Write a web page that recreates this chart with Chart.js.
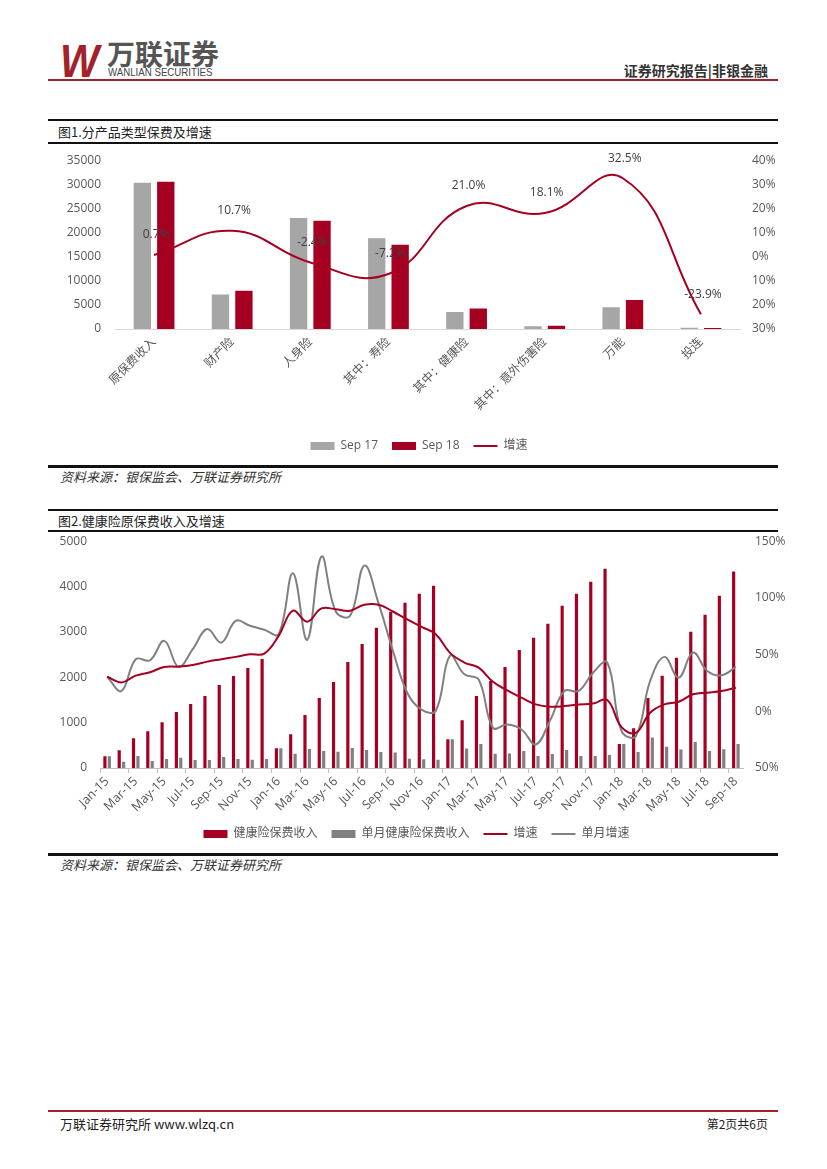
<!DOCTYPE html>
<html>
<head>
<meta charset="utf-8">
<script src="https://cdn.jsdelivr.net/npm/chart.js@4.4.1/dist/chart.umd.min.js"></script>
<style>
  html, body { margin: 0; padding: 0; background: #fff; }
  body { width: 827px; height: 1169px; position: relative; overflow: hidden;
         font-family: 'Noto Sans CJK SC', sans-serif; color: #222; }
  .abs { position: absolute; white-space: nowrap; }
  .rule { position: absolute; left: 48px; width: 730px; background: #111; }
  .title { font-size: 13px; line-height: 16px; left: 58px; }
  .src { font-size: 13px; line-height: 16px; left: 60px; font-style: italic; color: #333; }
</style>
</head>
<body>
<!-- header -->
<div class="abs" style="left:60px;top:33px;font:italic 900 47px 'Liberation Sans';color:#a3212b;transform:scaleX(0.88);transform-origin:left">W</div>
<div class="abs" style="left:107px;top:36px;font:700 28px 'Noto Sans CJK SC';color:#555;line-height:34px">万联证券</div>
<div class="abs" style="left:108px;top:66px;font:11px 'Liberation Sans';color:#444;transform:scaleX(0.88);transform-origin:left">WANLIAN SECURITIES</div>
<div class="abs" style="right:59px;top:60px;font:700 14px 'Noto Sans CJK SC';color:#333">证券研究报告|非银金融</div>
<div class="rule" style="top:79px;height:2px;background:#a3212b"></div>

<!-- figure 1 -->
<div class="rule" style="top:119px;height:2px"></div>
<div class="abs title" style="top:124px">图1.分产品类型保费及增速</div>
<div class="rule" style="top:142px;height:1.5px"></div>
<canvas id="c1" class="abs" style="left:48px;top:139px" width="742" height="326"></canvas>
<div class="rule" style="top:465px;height:2.5px"></div>
<div class="abs src" style="top:469px">资料来源：银保监会、万联证券研究所</div>

<!-- figure 2 -->
<div class="rule" style="top:509px;height:1.5px"></div>
<div class="abs title" style="top:513px">图2.健康险原保费收入及增速</div>
<div class="rule" style="top:530px;height:2px"></div>
<canvas id="c2" class="abs" style="left:48px;top:521px" width="737" height="332"></canvas>
<div class="rule" style="top:853px;height:2.5px"></div>
<div class="abs src" style="top:857px">资料来源：银保监会、万联证券研究所</div>

<!-- footer -->
<div class="rule" style="top:1110px;height:2px;background:#a3212b"></div>
<div class="abs" style="left:60px;top:1114px;font-size:13px;color:#222">万联证券研究所 www.wlzq.cn</div>
<div class="abs" style="right:59px;top:1115px;font-size:12px;color:#222">第2页共6页</div>

<script>
  // ---- figure 1 data ----
  const productCats = ['原保费收入', '财产险', '人身险', '其中：寿险', '其中：健康险', '其中：意外伤害险', '万能', '投连']
  const sep17 = [30300, 7150, 23000, 18800, 3500, 560, 4530, 250]
  const sep18 = [30520, 7915, 22450, 17450, 4235, 660, 6000, 190]
  const productGrowth = [0.7, 10.7, -2.4, -7.2, 21.0, 18.1, 32.5, -23.9]

  // ---- figure 2 data ----
  const months = [
    'Jan-15', 'Feb-15', 'Mar-15', 'Apr-15', 'May-15', 'Jun-15', 'Jul-15', 'Aug-15', 'Sep-15', 'Oct-15', 'Nov-15', 'Dec-15',
    'Jan-16', 'Feb-16', 'Mar-16', 'Apr-16', 'May-16', 'Jun-16', 'Jul-16', 'Aug-16', 'Sep-16', 'Oct-16', 'Nov-16', 'Dec-16',
    'Jan-17', 'Feb-17', 'Mar-17', 'Apr-17', 'May-17', 'Jun-17', 'Jul-17', 'Aug-17', 'Sep-17', 'Oct-17', 'Nov-17', 'Dec-17',
    'Jan-18', 'Feb-18', 'Mar-18', 'Apr-18', 'May-18', 'Jun-18', 'Jul-18', 'Aug-18', 'Sep-18'
  ]
  const healthCum = [
    259, 392, 657, 812, 1011, 1232, 1409, 1586, 1829, 2028, 2205, 2404,
    436, 746, 1166, 1542, 1896, 2338, 2736, 3090, 3444, 3643, 3842, 4020,
    635, 1055, 1586, 1918, 2228, 2604, 2869, 3179, 3577, 3842, 4108, 4395,
    528, 875, 1545, 2032, 2430, 3005, 3378, 3798, 4332
  ]
  const healthMonth = [
    259, 138, 262, 152, 196, 228, 175, 176, 240, 196, 184, 196,
    438, 312, 418, 374, 356, 440, 396, 352, 340, 205, 195, 182,
    635, 432, 528, 312, 318, 374, 262, 308, 396, 262, 262, 284,
    528, 350, 672, 468, 408, 572, 374, 412, 528
  ]
  const healthGrowth = [
    30.5, 25.5, 31.5, 34.5, 39.1, 39.4, 40.9, 43.8, 45.9, 48, 50.3, 50.9,
    66.5, 88.7, 79, 90.7, 90, 88.7, 94, 94, 88, 81, 74.5, 68,
    51.5, 43, 38.5, 26, 18.5, 12, 6.1, 4, 4.6, 6, 6.8, 10,
    -14, -19, -1.3, 6.1, 8.4, 15, 16.4, 17.9, 20.8
  ]
  const monthGrowth = [
    30.5, 17.9, 45.9, 45, 62.1, 39.1, 55, 72.5, 60.6, 79.8, 75.4, 71.9,
    68, 121.7, 63, 136.5, 88, 84.2, 128.5, 95, 53.3, 16.4, 1.5, 0.5,
    49, 32.6, 28, -14.6, -11.6, -16, -29.3, -8, 17.9, 18, 34, 43,
    -17.5, -21.9, 26.7, 48, 29.7, 51.8, 35.6, 31.8, 39.1
  ]

  const RED = '#a50021'
  const GRAY_LIGHT = '#a6a6a6'
  const GRAY = '#808080'
  const FONT = "'Open Sans', 'Noto Sans CJK SC', sans-serif"
  const TXT = '#595959'
  const tickFont = { family: FONT, size: 12 }

  Chart.defaults.font.family = FONT
  Chart.defaults.color = TXT
  Chart.defaults.animation = false

  const noGrid = { display: false, drawTicks: false }
  const pct = (v) => Math.abs(v) + '%'
  const plain = (v) => String(v)

  // growth value labels above the line points in figure 1
  const growthLabels = {
    id: 'growthLabels',
    afterDatasetsDraw(chart) {
      const { ctx } = chart
      const meta = chart.getDatasetMeta(2)
      ctx.save()
      ctx.font = `12px ${FONT}`
      ctx.fillStyle = '#404040'
      ctx.textAlign = 'center'
      ctx.textBaseline = 'middle'
      meta.data.forEach((pt, i) => {
        ctx.fillText(productGrowth[i].toFixed(1) + '%', pt.x + 2, pt.y - 20)
      })
      ctx.restore()
    },
  }

  const legendLabels = {
    usePointStyle: true, pointStyleWidth: 24, boxHeight: 8, padding: 14,
    font: { family: FONT, size: 12 }, color: TXT,
    sort: (a, b) => a.datasetIndex - b.datasetIndex,
  }

  new Chart(document.getElementById('c1'), {
    type: 'bar',
    data: {
      labels: productCats,
      datasets: [
        { label: 'Sep 17', data: sep17, backgroundColor: GRAY_LIGHT, yAxisID: 'y', order: 1,
          pointStyle: 'rect', categoryPercentage: 0.6, barPercentage: 0.74 },
        { label: 'Sep 18', data: sep18, backgroundColor: RED, yAxisID: 'y', order: 1,
          pointStyle: 'rect', categoryPercentage: 0.6, barPercentage: 0.74 },
        { type: 'line', label: '增速', data: productGrowth, yAxisID: 'y1', order: 0,
          borderColor: RED, backgroundColor: RED, borderWidth: 2, pointRadius: 0,
          pointStyle: 'line', tension: 0.45 },
      ],
    },
    options: {
      responsive: false,
      layout: { padding: { top: 0, bottom: 3 } },
      plugins: { legend: { position: 'bottom', labels: legendLabels }, tooltip: { enabled: false } },
      scales: {
        x: {
          grid: noGrid, border: { color: '#d9d9d9' },
          ticks: { font: tickFont, color: TXT, maxRotation: 45, minRotation: 45, autoSkip: false, padding: 6 },
          afterFit(s) { s.height = 97 },
        },
        y: {
          position: 'left', min: 0, max: 35000, grid: noGrid, border: { display: false },
          ticks: { stepSize: 5000, font: tickFont, color: TXT, padding: 14, callback: plain },
          afterFit(s) { s.width = 67 },
        },
        y1: {
          position: 'right', min: -30, max: 40, grid: noGrid, border: { display: false },
          ticks: { stepSize: 10, font: tickFont, color: TXT, padding: 12, callback: pct },
          afterFit(s) { s.width = 50 },
        },
      },
    },
    plugins: [growthLabels],
  })

  new Chart(document.getElementById('c2'), {
    type: 'bar',
    data: {
      labels: months,
      datasets: [
        { label: '健康险保费收入', data: healthCum, backgroundColor: RED, yAxisID: 'y', order: 2,
          pointStyle: 'rect', categoryPercentage: 0.62, barPercentage: 0.72 },
        { label: '单月健康险保费收入', data: healthMonth, backgroundColor: GRAY, yAxisID: 'y', order: 2,
          pointStyle: 'rect', categoryPercentage: 0.62, barPercentage: 0.72 },
        { type: 'line', label: '增速', data: healthGrowth, yAxisID: 'y1', order: 0,
          borderColor: RED, backgroundColor: RED, borderWidth: 2, pointRadius: 0,
          pointStyle: 'line', tension: 0.4 },
        { type: 'line', label: '单月增速', data: monthGrowth, yAxisID: 'y1', order: 1,
          borderColor: GRAY, backgroundColor: GRAY, borderWidth: 2, pointRadius: 0,
          pointStyle: 'line', tension: 0.4 },
      ],
    },
    options: {
      responsive: false,
      layout: { padding: { top: 0, bottom: 3 } },
      plugins: { legend: { position: 'bottom', labels: legendLabels }, tooltip: { enabled: false } },
      scales: {
        x: {
          grid: {
            display: true, drawOnChartArea: false, drawTicks: true, tickLength: 5, offset: true,
            color: (c) => (c.index % 2 === 0 ? '#bfbfbf' : 'rgba(0,0,0,0)'),
          },
          border: { color: '#bfbfbf' },
          ticks: {
            font: { family: FONT, size: 12.5 }, color: TXT, maxRotation: 45, minRotation: 45,
            autoSkip: false, padding: 1,
            callback: (v, i) => (i % 2 === 0 ? months[i] : ''),
          },
          afterFit(s) { s.height = 46 },
        },
        y: {
          position: 'left', min: 0, max: 5000, grid: noGrid, border: { display: false },
          ticks: { stepSize: 1000, font: tickFont, color: TXT, padding: 13, callback: plain },
          afterFit(s) { s.width = 52 },
        },
        y1: {
          position: 'right', min: -50, max: 150, grid: noGrid, border: { display: false },
          ticks: { stepSize: 50, font: tickFont, color: TXT, padding: 12, callback: pct },
          afterFit(s) { s.width = 42 },
        },
      },
    },
  })
</script>
</body>
</html>
